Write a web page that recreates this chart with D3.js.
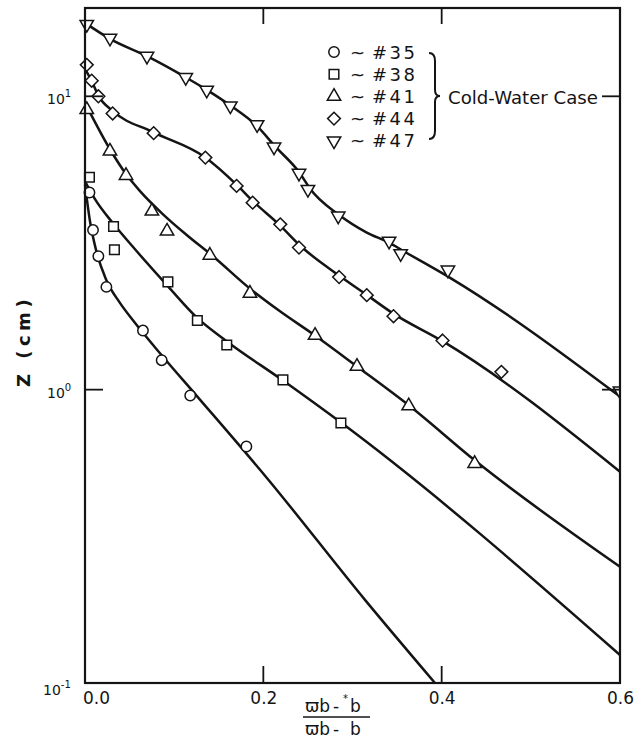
<!DOCTYPE html>
<html><head><meta charset="utf-8">
<script src="https://cdn.jsdelivr.net/npm/d3@7"></script>
<style>
html,body{margin:0;padding:0;background:#fff;}
svg{display:block;font-family:"DejaVu Sans",sans-serif;}
</style></head><body>
<svg id="chart" width="634" height="744"></svg>
<script>
// Run identifiers and their marker shapes
const runs = ["#35", "#38", "#41", "#44", "#47"];
const shapes = ["circle", "square", "triangle", "diamond", "triangleDown"];
const groupLabel = "Cold-Water Case";

// Measured points, [x, Z (cm)]
const pts35 = [[0.005,4.7],[0.009,3.5],[0.015,2.85],[0.024,2.24],[0.065,1.59],[0.086,1.26],[0.118,0.955],[0.181,0.64]];
const pts38 = [[0.005,5.3],[0.032,3.6],[0.033,3.0],[0.093,2.33],[0.126,1.72],[0.159,1.42],[0.222,1.08],[0.287,0.77]];
const pts41 = [[0.002,9.0],[0.028,6.5],[0.046,5.37],[0.075,4.06],[0.092,3.47],[0.140,2.87],[0.185,2.13],[0.258,1.53],[0.305,1.20],[0.363,0.88],[0.437,0.56]];
const pts44 = [[0.002,12.8],[0.0075,11.3],[0.015,10.0],[0.031,8.74],[0.077,7.49],[0.135,6.18],[0.170,4.95],[0.188,4.34],[0.219,3.66],[0.240,3.05],[0.285,2.42],[0.316,2.10],[0.346,1.78],[0.401,1.47],[0.467,1.15]];
const pts47 = [[0.002,17.6],[0.028,15.8],[0.0695,13.7],[0.113,11.6],[0.1365,10.5],[0.163,9.28],[0.193,8.01],[0.212,6.72],[0.240,5.47],[0.250,4.82],[0.284,3.91],[0.341,3.21],[0.354,2.91],[0.407,2.56],[0.6,0.99]];

// Fitted curves, [x, Z (cm)]
const fit35 = [[0,5.0],[0.0056,3.75],[0.0123,3.0],[0.0235,2.38],[0.039,1.98],[0.054,1.72],[0.086,1.31],[0.126,0.947],[0.204,0.50],[0.314,0.192],[0.3925,0.1]];
const fit38 = [[0,5.13],[0.0112,4.46],[0.0314,3.69],[0.0561,3.01],[0.0931,2.25],[0.1256,1.76],[0.1592,1.46],[0.2221,1.074],[0.2871,0.772],[0.6,0.1246]];
const fit41 = [[0,9.5],[0.028,6.6],[0.046,5.43],[0.0617,4.75],[0.0875,3.96],[0.1144,3.36],[0.1435,2.85],[0.185,2.21],[0.2187,1.85],[0.2579,1.53],[0.305,1.20],[0.3634,0.883],[0.4374,0.573],[0.6,0.249]];
const fit44 = [[0,12.4],[0.0079,11.2],[0.0146,10.1],[0.0314,8.9],[0.0763,7.55],[0.1346,6.2],[0.1705,4.98],[0.1884,4.39],[0.2187,3.63],[0.2411,3.10],[0.2849,2.45],[0.3163,2.10],[0.3454,1.82],[0.4015,1.46],[0.6,0.525]];
const fit47 = [[0,17.8],[0.028,15.7],[0.0695,13.7],[0.113,11.6],[0.137,10.5],[0.164,9.26],[0.193,7.91],[0.213,6.76],[0.241,5.47],[0.252,4.86],[0.284,3.96],[0.316,3.43],[0.341,3.17],[0.357,2.97],[0.409,2.41],[0.6,0.947]];

// Axis ticks
const xTicks = [0, 0.2, 0.4, 0.6];
const xTickLabels = ["0.0", "0.2", "0.4", "0.6"];
const xInnerTicks = [0.2, 0.4];
const yTicks = [0.1, 1, 10];
const yTickExps = ["-1", "0", "1"];
const yInnerTicks = [1, 10];

const points = [pts35, pts38, pts41, pts44, pts47];
const fits = [fit35, fit38, fit41, fit44, fit47];

const ink = "#141414";
const svg = d3.select("#chart");
const L = 85, R = 620, T = 8, B = 683;

const x = d3.scaleLinear().domain([0, 0.6]).range([L, R]);
const y = d3.scaleLog().domain([0.1, 20]).range([B, T]);

// Marker shapes (custom symbol types)
const sq = { draw(ctx, s) { const h = Math.sqrt(s) / 2; ctx.rect(-h, -h, 2 * h, 2 * h); } };
const dia = { draw(ctx, s) { const h = Math.sqrt(s) / Math.SQRT2; ctx.moveTo(0, -h); ctx.lineTo(h, 0); ctx.lineTo(0, h); ctx.lineTo(-h, 0); ctx.closePath(); } };
const triUp = { draw(ctx, s) { const a = Math.sqrt(s * 4 / Math.sqrt(3)); const hh = a * Math.sqrt(3) / 2; ctx.moveTo(0, -hh * 2 / 3); ctx.lineTo(a / 2, hh / 3); ctx.lineTo(-a / 2, hh / 3); ctx.closePath(); } };
const triDn = { draw(ctx, s) { const a = Math.sqrt(s * 4 / Math.sqrt(3)); const hh = a * Math.sqrt(3) / 2; ctx.moveTo(0, hh * 2 / 3); ctx.lineTo(a / 2, -hh / 3); ctx.lineTo(-a / 2, -hh / 3); ctx.closePath(); } };
const symTypes = { circle: d3.symbolCircle, square: sq, triangle: triUp, diamond: dia, triangleDown: triDn };
const symSizes = { circle: 85, square: 92, triangle: 78, diamond: 82, triangleDown: 78 };
const symbolPath = k => d3.symbol().type(symTypes[k]).size(symSizes[k])();

svg.append("defs").append("clipPath").attr("id", "plotclip")
  .append("rect").attr("x", L - 30).attr("y", T - 30).attr("width", R - L + 30).attr("height", B - T + 60);

// Fitted curves
const line = d3.line().x(d => x(d[0])).y(d => y(d[1])).curve(d3.curveMonotoneX);
svg.append("g").selectAll("path").data(fits).join("path")
  .attr("d", line).attr("fill", "none").attr("stroke", ink)
  .attr("stroke-width", 2.5).attr("stroke-linejoin", "round");

// Data markers
const mk = svg.append("g").attr("clip-path", "url(#plotclip)");
points.forEach((arr, i) => {
  mk.append("g").selectAll("path").data(arr).join("path")
    .attr("d", symbolPath(shapes[i]))
    .attr("transform", d => `translate(${x(d[0])},${y(d[1])})`)
    .attr("fill", "#fff").attr("stroke", ink).attr("stroke-width", 1.5);
});

// Frame
svg.append("rect").attr("x", L).attr("y", T).attr("width", R - L).attr("height", B - T)
  .attr("fill", "none").attr("stroke", ink).attr("stroke-width", 2.2);

// Inward ticks on all four sides
const tk = svg.append("g").attr("stroke", ink).attr("stroke-width", 1.8);
xInnerTicks.forEach(v => {
  tk.append("line").attr("x1", x(v)).attr("x2", x(v)).attr("y1", B).attr("y2", B - 17);
  tk.append("line").attr("x1", x(v)).attr("x2", x(v)).attr("y1", T).attr("y2", T + 16);
});
yInnerTicks.forEach(v => {
  tk.append("line").attr("x1", L).attr("x2", L + 18).attr("y1", y(v)).attr("y2", y(v));
  tk.append("line").attr("x1", R).attr("x2", R - 18).attr("y1", y(v)).attr("y2", y(v));
});

// x tick labels
const xAxis = d3.axisBottom(x).tickValues(xTicks).tickSize(0).tickPadding(0)
  .tickFormat((d, i) => xTickLabels[i]);
const gx = svg.append("g").attr("transform", `translate(0,${B})`).call(xAxis);
gx.select(".domain").remove();
gx.selectAll("text").attr("font-size", 17).attr("fill", ink)
  .attr("font-family", "DejaVu Sans").attr("dy", 21)
  .attr("dx", (d, i) => i === 0 ? 11 : 0);

// y tick labels: 10 with exponent
const gy = svg.append("g");
yTicks.forEach((v, i) => {
  const t = gy.append("text").attr("x", 47 - (i === 0 ? 4 : 0)).attr("y", y(v) + 8 + (i === 0 ? 4 : 0))
    .attr("font-size", 14).attr("fill", ink);
  t.append("tspan").text("10");
  t.append("tspan").attr("dy", -7).attr("font-size", 10).text(yTickExps[i]);
});

// y axis title
svg.append("text").attr("transform", "translate(30,341) rotate(-90)")
  .attr("text-anchor", "middle").attr("font-size", 18).attr("font-weight", "bold")
  .attr("letter-spacing", 4.5).attr("fill", ink).text("Z (cm)");

// x axis title (fraction)
const xt = svg.append("g").attr("fill", ink).attr("font-size", 17);
xt.append("text").attr("x", 305).attr("y", 712).text("ϖb");
xt.append("text").attr("x", 333).attr("y", 712).text("-");
xt.append("text").attr("x", 343).attr("y", 702).attr("font-size", 10).text("*");
xt.append("text").attr("x", 350).attr("y", 712).text("b");
xt.append("line").attr("x1", 303).attr("x2", 370).attr("y1", 717).attr("y2", 717)
  .attr("stroke", ink).attr("stroke-width", 1.5);
xt.append("text").attr("x", 305).attr("y", 735).text("ϖb");
xt.append("text").attr("x", 333).attr("y", 735).text("-");
xt.append("text").attr("x", 350).attr("y", 735).text("b");

// Legend
const lg = svg.append("g");
const rowY = i => 52 + i * 22.2;
runs.forEach((r, i) => {
  lg.append("path").attr("d", symbolPath(shapes[i]))
    .attr("transform", `translate(334,${rowY(i)})`)
    .attr("fill", "#fff").attr("stroke", ink).attr("stroke-width", 1.5);
  lg.append("text").attr("x", 350).attr("y", rowY(i) + 6.5).attr("font-size", 18).attr("fill", ink).text("~");
  lg.append("text").attr("x", 372).attr("y", rowY(i) + 6.5).attr("font-size", 18)
    .attr("letter-spacing", 2.5).attr("fill", ink).text(r);
});
// Brace grouping the runs
const bx = 429, by0 = 53, by1 = 139, bm = (by0 + by1) / 2;
lg.append("path")
  .attr("d", `M${bx},${by0} Q${bx + 6},${by0} ${bx + 6},${by0 + 8} L${bx + 6},${bm - 6} Q${bx + 6},${bm} ${bx + 11},${bm} Q${bx + 6},${bm} ${bx + 6},${bm + 6} L${bx + 6},${by1 - 8} Q${bx + 6},${by1} ${bx},${by1}`)
  .attr("fill", "none").attr("stroke", ink).attr("stroke-width", 2);
lg.append("text").attr("x", 448).attr("y", 103.5).attr("font-size", 18)
  .attr("textLength", 150).attr("lengthAdjust", "spacingAndGlyphs").attr("fill", ink).text(groupLabel);
</script>
</body></html>
